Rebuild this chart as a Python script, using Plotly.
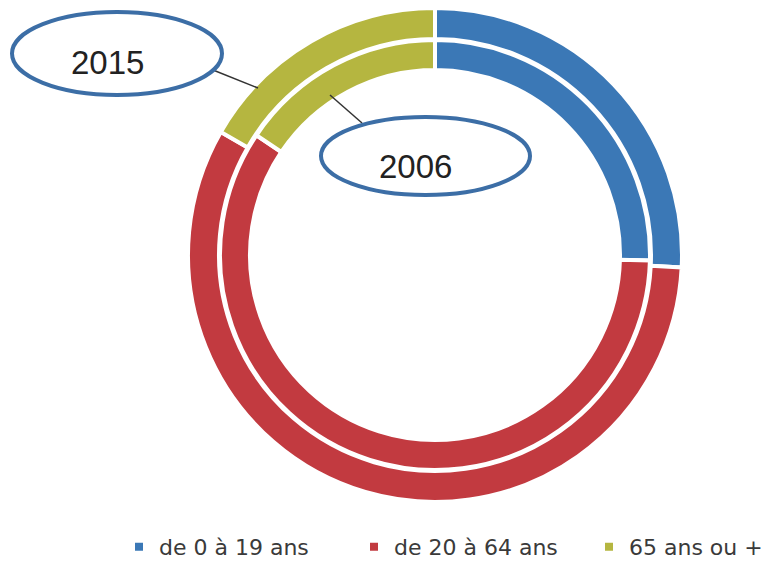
import plotly.graph_objects as go

W, H = 770, 567

categories = ["de 0 à 19 ans", "de 20 à 64 ans", "65 ans ou +"]
values_2015 = [25.8, 57.5, 16.7]
values_2006 = [25.4, 59.0, 15.6]
colors = ["#3b78b6", "#c23a40", "#b5b640"]
year_labels = ["2015", "2006"]


def px(x):
    return x / W


def py(y):
    return 1 - y / H


cx, cy = 435, 255
r_out, hole_out = 247, 216
r_in, hole_in = 215, 185

fig = go.Figure()
for vals, r, hole, name in [(values_2015, r_out, hole_out, year_labels[0]),
                            (values_2006, r_in, hole_in, year_labels[1])]:
    fig.add_trace(go.Pie(
        labels=categories, values=vals, name=name,
        hole=hole / r, sort=False, direction="clockwise", rotation=0,
        textinfo="none", hoverinfo="label+percent+name",
        marker=dict(colors=colors, line=dict(color="white", width=4)),
        domain=dict(x=[px(cx - r), px(cx + r)], y=[py(cy + r), py(cy - r)]),
    ))

shapes = []
# connector lines
shapes.append(dict(type="line", xref="paper", yref="paper",
                   x0=px(213), y0=py(70), x1=px(258), y1=py(88),
                   line=dict(color="#333333", width=1.5)))
shapes.append(dict(type="line", xref="paper", yref="paper",
                   x0=px(330), y0=py(95), x1=px(362), y1=py(123),
                   line=dict(color="#333333", width=1.5)))
# ellipses
for (x0, y0, x1, y1) in [(12, 12, 222, 95), (321, 117, 530, 195)]:
    shapes.append(dict(type="circle", xref="paper", yref="paper",
                       x0=px(x0), x1=px(x1), y0=py(y1), y1=py(y0),
                       fillcolor="white", line=dict(color="#3c6ea6", width=4),
                       layer="above"))

annotations = [
    dict(text=year_labels[0], x=px(107), y=py(62), xref="paper", yref="paper",
         xanchor="center", yanchor="middle", showarrow=False,
         font=dict(family="Liberation Sans", size=33, color="#222222")),
    dict(text=year_labels[1], x=px(415), y=py(166), xref="paper", yref="paper",
         xanchor="center", yanchor="middle", showarrow=False,
         font=dict(family="Liberation Sans", size=33, color="#222222")),
]

fig.update_layout(
    width=W, height=H,
    margin=dict(l=0, r=0, t=0, b=0, autoexpand=False),
    paper_bgcolor="white", plot_bgcolor="white",
    shapes=shapes, annotations=annotations,
    showlegend=True,
    legend=dict(orientation="h", x=px(119), xanchor="left", y=py(547), yanchor="middle",
                font=dict(family="DejaVu Sans", size=22, color="#3a3a3a"),
                entrywidth=190, entrywidthmode="pixels",
                traceorder="normal", itemclick=False),
)

fig.write_html("out.html", config={"displayModeBar": False},
               post_script="document.body.style.margin='0';")
